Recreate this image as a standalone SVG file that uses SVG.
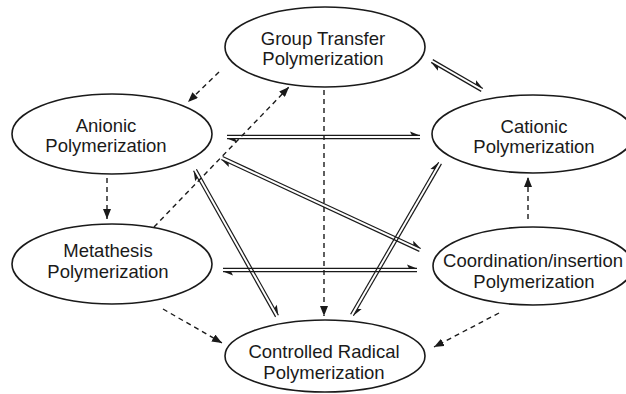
<svg xmlns="http://www.w3.org/2000/svg" width="626" height="394" viewBox="0 0 626 394">
<defs>
<style>
.node ellipse{fill:#fff;stroke:#1a1a1a;stroke-width:1.6}
.node text{font-family:"Liberation Sans",Arial,sans-serif;font-size:18.5px;fill:#1a1a1a;text-anchor:middle}
.dash{stroke:#1a1a1a;stroke-width:1.4;stroke-dasharray:5 4;fill:none}
.eq line{stroke:#1a1a1a;stroke-width:1.2}
</style>
<marker id="ah" viewBox="0 0 10 8" refX="10" refY="4" markerWidth="10" markerHeight="8" markerUnits="userSpaceOnUse" orient="auto">
<path d="M0,0 L10,4 L0,8 Z" fill="#1a1a1a"/>
</marker>
<marker id="hp" viewBox="-11 -5 12 6" refX="0" refY="0" markerWidth="12" markerHeight="6" markerUnits="userSpaceOnUse" orient="auto-start-reverse">
<path d="M0,0 L-10,-3.8 L-8,0 Z" fill="#1a1a1a"/>
</marker>
</defs>
<rect width="626" height="394" fill="#fff"/>
<g id="connectors">
<g class="eq" transform="translate(432,61) rotate(30.1)">
<line x1="0" y1="-1.6" x2="57.8" y2="-1.6" marker-end="url(#hp)"/>
<line x1="0" y1="1.6" x2="57.8" y2="1.6" marker-start="url(#hp)"/>
</g>
<g class="eq" transform="translate(227,137)">
<line x1="0" y1="-1.6" x2="193" y2="-1.6" marker-end="url(#hp)"/>
<line x1="0" y1="1.6" x2="193" y2="1.6" marker-start="url(#hp)"/>
</g>
<g class="eq" transform="translate(222,158) rotate(24.9)">
<line x1="0" y1="-1.6" x2="218.3" y2="-1.6" marker-end="url(#hp)"/>
<line x1="0" y1="1.6" x2="218.3" y2="1.6" marker-start="url(#hp)"/>
</g>
<g class="eq" transform="translate(223,270)">
<line x1="0" y1="-1.6" x2="194" y2="-1.6" marker-end="url(#hp)"/>
<line x1="0" y1="1.6" x2="194" y2="1.6" marker-start="url(#hp)"/>
</g>
<g class="eq" transform="translate(195,170) rotate(60.7)">
<line x1="0" y1="-1.6" x2="167.5" y2="-1.6" marker-end="url(#hp)"/>
<line x1="0" y1="1.6" x2="167.5" y2="1.6" marker-start="url(#hp)"/>
</g>
<g class="eq" transform="translate(352,315) rotate(-59.9)">
<line x1="0" y1="-1.6" x2="175.6" y2="-1.6" marker-end="url(#hp)"/>
<line x1="0" y1="1.6" x2="175.6" y2="1.6" marker-start="url(#hp)"/>
</g>
<line class="dash" x1="219" y1="72" x2="188" y2="102" marker-end="url(#ah)"/>
<line class="dash" x1="154" y1="227" x2="289" y2="87" marker-end="url(#ah)"/>
<line class="dash" x1="107" y1="178" x2="107" y2="219" marker-end="url(#ah)"/>
<line class="dash" x1="324" y1="90" x2="324" y2="316" marker-end="url(#ah)"/>
<line class="dash" x1="528" y1="219" x2="528" y2="177" marker-end="url(#ah)"/>
<line class="dash" x1="163" y1="309" x2="222" y2="343" marker-end="url(#ah)"/>
<line class="dash" x1="499" y1="313" x2="434" y2="347" marker-end="url(#ah)"/>
</g>
<g id="group-transfer" class="node">
<ellipse cx="325" cy="47" rx="100" ry="40"/>
<text x="323" y="45">Group Transfer</text>
<text x="323" y="65">Polymerization</text>
</g>
<g id="anionic" class="node">
<ellipse cx="112" cy="134" rx="100" ry="40"/>
<text x="106" y="132">Anionic</text>
<text x="106" y="152">Polymerization</text>
</g>
<g id="cationic" class="node">
<ellipse cx="533" cy="134" rx="101" ry="39"/>
<text x="534" y="133">Cationic</text>
<text x="534" y="153">Polymerization</text>
</g>
<g id="metathesis" class="node">
<ellipse cx="112" cy="264" rx="100" ry="40"/>
<text x="108" y="257">Metathesis</text>
<text x="108" y="278">Polymerization</text>
</g>
<g id="coordination" class="node">
<ellipse cx="533" cy="266" rx="100" ry="39"/>
<text x="533" y="267">Coordination/insertion</text>
<text x="534" y="288">Polymerization</text>
</g>
<g id="controlled-radical" class="node">
<ellipse cx="325" cy="356" rx="100" ry="36"/>
<text x="324" y="358">Controlled Radical</text>
<text x="324" y="379">Polymerization</text>
</g>
</svg>
